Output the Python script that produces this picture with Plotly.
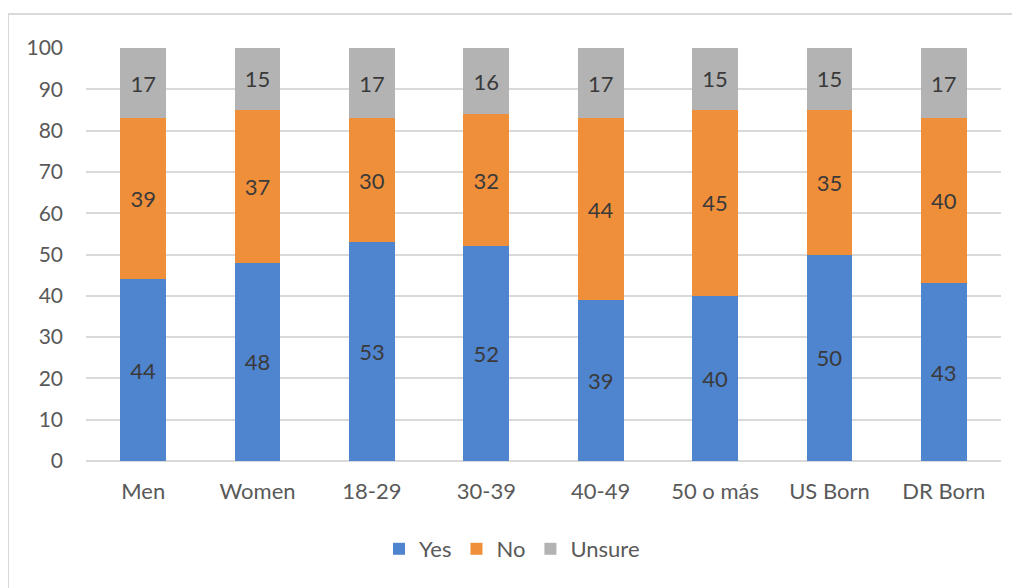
import plotly.graph_objects as go

categories = ["Men", "Women", "18-29", "30-39", "40-49", "50 o más", "US Born", "DR Born"]
yes = [44, 48, 53, 52, 39, 40, 50, 43]
no = [39, 37, 30, 32, 44, 45, 35, 40]
unsure = [17, 15, 17, 16, 17, 15, 15, 17]
series = [("Yes", yes, "#4f84cf"), ("No", no, "#f08f3a"), ("Unsure", unsure, "#b3b3b3")]
y_ticks = list(range(0, 101, 10))

FONT = "Lato, 'Open Sans', sans-serif"
OFF = 8  # page body margin

fig = go.Figure()
for name, vals, color in series:
    fig.add_trace(go.Bar(
        x=categories, y=vals, name=name,
        marker=dict(color=color, line=dict(width=0)),
        text=[str(v) for v in vals], textposition="inside",
        insidetextanchor="middle", constraintext="none",
        textfont=dict(family=FONT, size=22, color="#3a3a3a"),
        hoverinfo="x+y+name",
    ))

W, H = 1020, 588
# target pixel positions in the screenshot
pl, pr, pt, pb = 86, 1001, 48, 461
ml = pl - OFF
mt = pt - OFF
mr = W - (pr - OFF)
mb = H - (pb - OFF)
pw, ph = W - ml - mr, H - mt - mb

def px_x(p):
    return (p - OFF - ml) / pw

def px_y(p):
    return (H - (p - OFF) - mb) / ph

fig.update_layout(
    width=W, height=H,
    margin=dict(l=ml, r=mr, t=mt, b=mb, autoexpand=False),
    barmode="stack", bargap=0.6,
    plot_bgcolor="white", paper_bgcolor="white",
    font=dict(family=FONT, size=22, color="#595959"),
    showlegend=True,
    legend=dict(orientation="h", x=px_x(512), xanchor="center", y=px_y(549), yanchor="middle",
                font=dict(family=FONT, size=22, color="#595959"), itemwidth=30,
                traceorder="normal", itemclick=False),
    xaxis=dict(showgrid=False, showline=False, ticks="", ticklabelstandoff=15,
               tickfont=dict(family=FONT, size=22, color="#595959")),
    yaxis=dict(range=[0, 100], tickvals=y_ticks, showgrid=True, gridcolor="#d9d9d9", gridwidth=1.5,
               zeroline=True, zerolinecolor="#d9d9d9", zerolinewidth=1.5, showline=False, ticks="",
               ticklabelstandoff=22, tickfont=dict(family=FONT, size=21, color="#595959")),
    shapes=[dict(type="rect", xref="paper", yref="paper",
                 x0=px_x(8), x1=px_x(1040), y0=px_y(620), y1=px_y(14),
                 line=dict(color="#d9d9d9", width=2), fillcolor="rgba(0,0,0,0)", layer="below")],
)

fig.write_html("out.html")
